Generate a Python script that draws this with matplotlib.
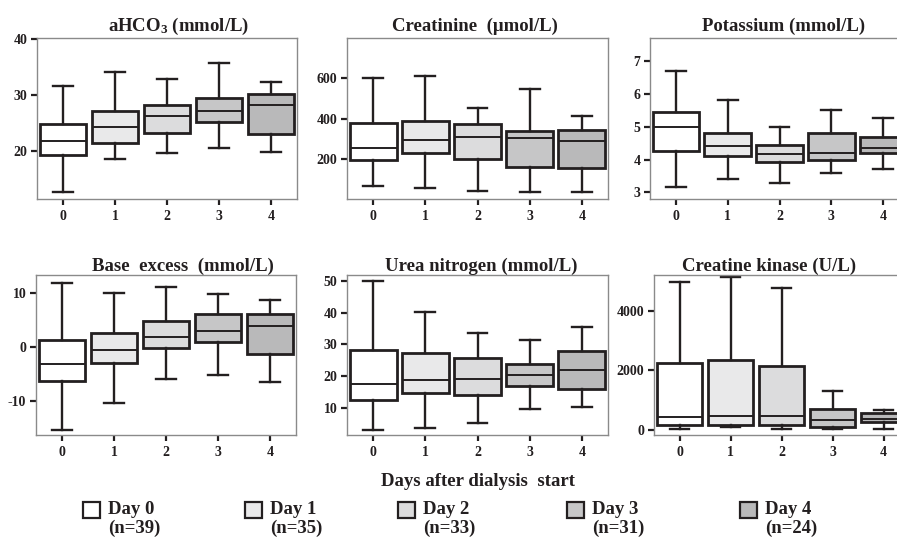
import matplotlib
matplotlib.use("Agg")
import matplotlib.pyplot as plt
from matplotlib.patches import Rectangle

plt.rcParams['font.family'] = ['Liberation Serif', 'DejaVu Serif']
plt.rcParams['font.weight'] = 'bold'
plt.rcParams['mathtext.default'] = 'regular'
plt.rcParams['axes.unicode_minus'] = False

# datos
dias = [0, 1, 2, 3, 4]
n_pac = [39, 35, 33, 31, 24]
colores = ['#ffffff', '#e9e9ea', '#dcdcdd', '#c6c6c7', '#b9b9ba']

titulos = ['aHCO$_3$ (mmol/L)', 'Creatinine  (\u03bcmol/L)', 'Potassium (mmol/L)',
           'Base  excess  (mmol/L)', 'Urea nitrogen (mmol/L)', 'Creatine kinase (U/L)']

# cada panel: [bigote inferior, Q1, mediana, Q3, bigote superior] por día
ahco3 = [[12.6, 19.3, 21.8, 24.9, 31.6],
         [18.6, 21.5, 24.3, 27.2, 34.2],
         [19.6, 23.2, 26.2, 28.2, 32.9],
         [20.6, 25.2, 27.1, 29.4, 35.7],
         [19.8, 23.0, 28.2, 30.1, 32.4]]
creatinina = [[65, 193, 251, 378, 600],
              [57, 228, 292, 388, 611],
              [40, 200, 310, 371, 453],
              [35, 160, 302, 336, 547],
              [35, 154, 287, 343, 414]]
potasio = [[3.18, 4.25, 4.99, 5.45, 6.71],
           [3.4, 4.1, 4.4, 4.8, 5.8],
           [3.3, 3.94, 4.18, 4.45, 4.99],
           [3.6, 4.0, 4.2, 4.8, 5.5],
           [3.7, 4.2, 4.35, 4.7, 5.28]]
exceso_base = [[-15.4, -6.3, -3.15, 1.4, 12.0],
               [-10.4, -2.96, -0.56, 2.65, 10.1],
               [-5.9, -0.06, 1.85, 4.9, 11.2],
               [-5.2, 1.0, 3.0, 6.2, 9.8],
               [-6.5, -1.3, 3.9, 6.1, 8.7]]
urea = [[3.0, 12.5, 17.6, 28.2, 50.0],
        [3.7, 14.5, 18.9, 27.2, 40.1],
        [5.3, 14.1, 19.2, 25.7, 33.7],
        [9.6, 16.8, 20.3, 23.8, 31.5],
        [10.3, 16.0, 21.9, 27.9, 35.6]]
ck = [[30, 157, 435, 2250, 4950],
      [100, 180, 468, 2350, 5117],
      [30, 157, 468, 2154, 4749],
      [30, 100, 324, 716, 1304],
      [30, 268, 358, 558, 669]]

paneles = [ahco3, creatinina, potasio, exceso_base, urea, ck]
limites_y = [(11.4, 40.2), (0, 800), (2.8, 7.7), (-16.3, 13.4), (1.4, 51.9), (-170, 5200)]
ticks_y = [[20, 30, 40], [200, 400, 600], [3, 4, 5, 6, 7], [-10, 0, 10],
           [10, 20, 30, 40, 50], [0, 2000, 4000]]

W, H = 897, 542
fig = plt.figure(figsize=(W / 100, H / 100), dpi=100)

# posiciones en píxeles: izquierda, arriba, derecha, abajo
cajas_px = [(37, 38, 297, 199), (347, 38, 608, 199), (650, 38, 909, 199),
            (36, 275, 296, 435), (347, 275, 608, 435), (654, 275, 909, 435)]
x_titulo = [0.546, 0.49, 0.517, 0.565, 0.513, 0.45]

for i in range(6):
    l, t, r, b = cajas_px[i]
    ax = fig.add_axes([l / W, 1 - b / H, (r - l) / W, (b - t) / H])
    stats = []
    for d, v in zip(dias, paneles[i]):
        stats.append({'whislo': v[0], 'q1': v[1], 'med': v[2], 'q3': v[3],
                      'whishi': v[4], 'fliers': [], 'label': str(d)})
    bp = ax.bxp(stats, positions=dias, widths=0.9, patch_artist=True,
                showfliers=False,
                boxprops=dict(linewidth=2.0, edgecolor='#231f20'),
                whiskerprops=dict(linewidth=1.7, color='#231f20'),
                capprops=dict(linewidth=1.7, color='#231f20'),
                medianprops=dict(linewidth=1.4, color='#231f20'),
                capwidths=0.38)
    for caja, c in zip(bp['boxes'], colores):
        caja.set_facecolor(c)
    ax.set_xlim(-0.5, 4.5)
    ax.set_ylim(*limites_y[i])
    ax.set_yticks(ticks_y[i])
    ax.set_xticks(dias)
    ax.set_xticklabels([str(d) for d in dias])
    for s in ax.spines.values():
        s.set_color('#8a8a8a')
        s.set_linewidth(1.0)
    ax.tick_params(axis='both', length=4, width=1.6, color='#231f20',
                   labelsize=10, labelcolor='#231f20')
    ax.tick_params(axis='x', pad=4)
    ax.tick_params(axis='y', pad=3)
    for lab in ax.get_xticklabels() + ax.get_yticklabels():
        lab.set_fontweight('bold')
    ax.set_title(titulos[i], fontsize=13.5, fontweight='bold', color='#231f20',
                 x=x_titulo[i], pad=5 if i < 3 else 1)

fig.text(478 / W, 1 - 481 / H, 'Days after dialysis  start', ha='center', va='center',
         fontsize=13.5, fontweight='bold', color='#231f20')

# leyenda manual
ley_x = [83, 245, 398, 567, 740]
for d, n, c, x in zip(dias, n_pac, colores, ley_x):
    fig.add_artist(Rectangle((x / W, 1 - 518 / H), 17 / W, 16 / H, transform=fig.transFigure,
                             facecolor=c, edgecolor='#231f20', linewidth=1.6))
    fig.text((x + 25) / W, 1 - 510 / H, 'Day %d' % d, ha='left', va='center',
             fontsize=13.5, fontweight='bold', color='#231f20')
    fig.text((x + 25) / W, 1 - 528 / H, '(n=%d)' % n, ha='left', va='center',
             fontsize=13.5, fontweight='bold', color='#231f20')

fig.savefig('out.png', dpi=100)
